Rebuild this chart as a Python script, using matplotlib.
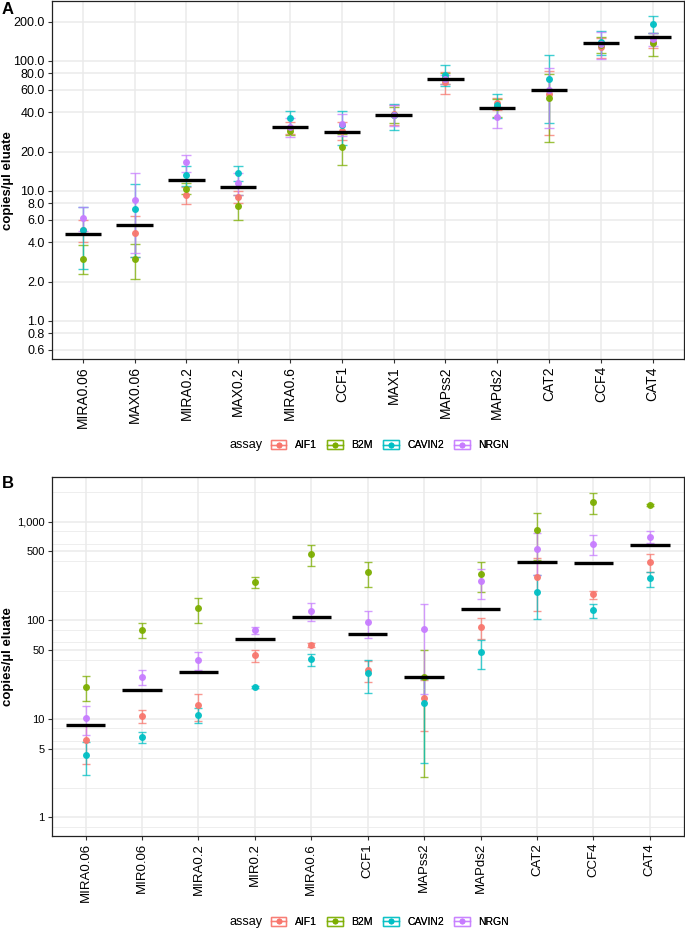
import numpy as np
import matplotlib
matplotlib.use("Agg")
import matplotlib.pyplot as plt
from matplotlib.ticker import FixedLocator, FuncFormatter, NullFormatter
from matplotlib.legend_handler import HandlerBase
from matplotlib.patches import Rectangle
from matplotlib.lines import Line2D

plt.rcParams['font.family'] = ['Liberation Sans', 'DejaVu Sans']

assays = ["AIF1", "B2M", "CAVIN2", "NRGN"]
assay_colors = ["#F8766D", "#7CAE00", "#00BFC4", "#C77CFF"]

# ---------------- Panel A ----------------
cats_A = ["MIRA0.06", "MAX0.06", "MIRA0.2", "MAX0.2", "MIRA0.6", "CCF1", "MAX1",
          "MAPss2", "MAPds2", "CAT2", "CCF4", "CAT4"]
A_AIF1_mean = [5.0, 4.75, 9.3, 9.0, 30.5, 29.0, 39.0, 69.0, 47.0, 55.2, 127, 140]
A_AIF1_low = [4.0, 3.1, 7.9, 8.0, 27.5, 24.5, 32.0, 55.5, 42.0, 26.7, 105, 125]
A_AIF1_high = [6.0, 6.4, 10.7, 10.0, 33.5, 33.8, 46.0, 82.5, 52.0, 83.8, 149, 155]
A_B2M_mean = [3.0, 3.0, 10.4, 7.6, 29.0, 21.6, 38.5, 73.0, 44.0, 51.3, 133, 136]
A_B2M_low = [2.3, 2.1, 9.5, 6.0, 27.0, 15.8, 33.0, 66.0, 37.0, 23.6, 115, 109]
A_B2M_high = [3.8, 3.9, 11.4, 9.2, 31.0, 27.4, 44.0, 80.0, 51.0, 79.0, 151, 163]
A_CAVIN2_mean = [5.0, 7.2, 13.2, 13.8, 36.0, 32.0, 38.0, 78.0, 46.0, 72.0, 140, 192]
A_CAVIN2_low = [2.5, 3.1, 10.9, 11.9, 31.0, 22.5, 29.5, 64.0, 36.5, 33.0, 111, 163]
A_CAVIN2_high = [7.5, 11.3, 15.5, 15.6, 41.0, 41.0, 46.5, 92.0, 55.5, 111.0, 169, 221]
A_NRGN_mean = [6.2, 8.5, 16.5, 11.4, 31.0, 32.5, 38.5, 72.0, 37.0, 59.5, 135, 147]
A_NRGN_low = [4.9, 3.3, 14.0, 9.2, 26.0, 26.4, 31.5, 66.0, 30.2, 30.5, 103, 130]
A_NRGN_high = [7.5, 13.7, 18.8, 13.6, 36.0, 38.6, 45.5, 78.0, 43.8, 88.5, 167, 164]
A_overall = [4.64, 5.45, 12.0, 10.7, 31.1, 28.4, 38.2, 72.3, 43.5, 59.2, 136, 151]
A_yticks = [0.6, 0.8, 1.0, 2.0, 4.0, 6.0, 8.0, 10.0, 20.0, 40.0, 60.0, 80.0, 100.0, 200.0]

# ---------------- Panel B ----------------
cats_B = ["MIRA0.06", "MIR0.06", "MIRA0.2", "MIR0.2", "MIRA0.6", "CCF1", "MAPss2",
          "MAPds2", "CAT2", "CCF4", "CAT4"]
B_AIF1_mean = [6.1, 10.8, 13.7, 44.5, 56.6, 31.3, 16.2, 84.9, 277, 184, 390]
B_AIF1_low = [3.5, 9.1, 9.6, 38.0, 54.0, 23.8, 7.5, 64.0, 124, 166, 311]
B_AIF1_high = [8.7, 12.3, 17.9, 50.1, 59.0, 38.8, 24.9, 106, 431, 200, 470]
B_B2M_mean = [21.2, 80.3, 132, 244, 467, 307, 26.3, 295, 824, 1574, 1476]
B_B2M_low = [15.3, 65.6, 94.6, 211, 354, 219, 2.6, 195, 409, 1197, 1430]
B_B2M_high = [27.0, 94.6, 169, 275, 574, 393, 50, 393, 1233, 1941, 1520]
B_CAVIN2_mean = [4.27, 6.55, 10.9, 20.9, 40.2, 29.4, 14.6, 47.7, 194, 126, 269]
B_CAVIN2_low = [2.7, 5.64, 9.1, 20.4, 34.4, 18.4, 3.6, 32.3, 102, 106, 219]
B_CAVIN2_high = [5.8, 7.35, 12.8, 21.4, 45.5, 39.6, 25.4, 62.7, 288, 146, 311]
B_NRGN_mean = [10.2, 26.8, 39.3, 80.3, 124, 96.1, 82.2, 249, 532, 594, 705]
B_NRGN_low = [6.8, 22.1, 31.0, 72.6, 97.7, 66.6, 18.0, 165, 288, 456, 604]
B_NRGN_high = [13.6, 31.3, 47.7, 86.0, 150, 125, 146, 329, 773, 733, 811]
B_overall = [8.61, 19.6, 29.9, 65.1, 107, 72.1, 26.8, 131, 393, 384, 576]
B_yticks = [1, 5, 10, 50, 100, 500, 1000]
B_yminor = [0.8, 2, 4, 6, 8, 20, 40, 60, 80, 200, 400, 600, 800, 2000]

A_series = [(A_AIF1_mean, A_AIF1_low, A_AIF1_high),
            (A_B2M_mean, A_B2M_low, A_B2M_high),
            (A_CAVIN2_mean, A_CAVIN2_low, A_CAVIN2_high),
            (A_NRGN_mean, A_NRGN_low, A_NRGN_high)]
B_series = [(B_AIF1_mean, B_AIF1_low, B_AIF1_high),
            (B_B2M_mean, B_B2M_low, B_B2M_high),
            (B_CAVIN2_mean, B_CAVIN2_low, B_CAVIN2_high),
            (B_NRGN_mean, B_NRGN_low, B_NRGN_high)]

W, H = 685, 938
fig = plt.figure(figsize=(W / 100, H / 100), dpi=100)


def px_axes(left, top, right, bottom):
    return fig.add_axes([left / W, 1 - bottom / H, (right - left) / W, (bottom - top) / H])


GRID = "#EBEBEB"


def draw_panel(ax, cats, series, overall, ylim, capsize, ytick_fs, xtick_fs):
    x = np.arange(len(cats))
    for (m, lo, hi), col in zip(series, assay_colors):
        m = np.asarray(m, float)
        lo = np.asarray(lo, float)
        hi = np.asarray(hi, float)
        ax.errorbar(x, m, yerr=[m - lo, hi - m], fmt='none', ecolor=col,
                    elinewidth=1.0, capsize=capsize, capthick=1.0, alpha=0.75, zorder=3)
    for (m, lo, hi), col in zip(series, assay_colors):
        ax.plot(x, m, 'o', color=col, markersize=5.0, markeredgewidth=0, alpha=0.95, zorder=4)
    ax.hlines(overall, x - 0.35, x + 0.35, color='black', lw=2.4, zorder=5)
    ax.set_yscale('log')
    ax.set_ylim(*ylim)
    ax.set_xlim(-0.6, len(cats) - 0.4)
    ax.set_xticks(x)
    ax.set_xticklabels(cats, rotation=90, fontsize=xtick_fs, color='black')
    ax.grid(which='major', color=GRID, lw=1.1)
    ax.grid(which='minor', color=GRID, lw=0.6)
    ax.set_axisbelow(True)
    ax.tick_params(which='major', direction='out', length=3, width=0.8, color='#333333',
                   labelcolor='black', pad=2)
    ax.tick_params(axis='y', which='major', labelsize=ytick_fs)
    ax.tick_params(axis='x', which='major', labelsize=xtick_fs)
    ax.tick_params(which='minor', length=0)
    for s in ax.spines.values():
        s.set_color('#222222')
        s.set_linewidth(0.9)
    ax.set_ylabel("copies/µl eluate", fontsize=9.5, fontweight='bold')
    ax.yaxis.set_label_coords(-0.06, 0.5)


axA = px_axes(51.7, 1, 683.7, 359.3)
draw_panel(axA, cats_A, A_series, A_overall, (0.505, 288), 3.6, 9.0, 10.0)
axA.yaxis.set_major_locator(FixedLocator(A_yticks))
axA.yaxis.set_major_formatter(FuncFormatter(lambda v, p: f"{v:.1f}"))
axA.yaxis.set_minor_locator(FixedLocator([]))
axA.yaxis.set_minor_formatter(NullFormatter())

axB = px_axes(51.7, 477.3, 683.7, 836)
draw_panel(axB, cats_B, B_series, B_overall, (0.649, 2820), 3.0, 8.0, 9.5)
axB.yaxis.set_major_locator(FixedLocator(B_yticks))
axB.yaxis.set_major_formatter(FuncFormatter(lambda v, p: f"{v:,.0f}"))
axB.yaxis.set_minor_locator(FixedLocator(B_yminor))
axB.yaxis.set_minor_formatter(NullFormatter())

fig.text(2 / W, 1 - 9 / H, "A", fontsize=12, fontweight='bold', va='center', ha='left')
fig.text(2 / W, 1 - 483 / H, "B", fontsize=12, fontweight='bold', va='center', ha='left')


class ErrKeyHandler(HandlerBase):
    def create_artists(self, legend, orig_handle, xdescent, ydescent, width, height,
                       fontsize, trans):
        col = orig_handle.get_color()
        x0, y0 = -xdescent, -ydescent
        rect = Rectangle((x0, y0), width, height, facecolor='none', edgecolor=col,
                         lw=1.0, alpha=0.75, transform=trans)
        ln = Line2D([x0, x0 + width], [y0 + height / 2] * 2, color=col, lw=1.0,
                    alpha=0.75, transform=trans)
        dot = Line2D([x0 + width / 2], [y0 + height / 2], marker='o', color=col,
                     markersize=4.2, markeredgewidth=0, transform=trans)
        return [rect, ln, dot]


handles = [Line2D([], [], color=c) for c in assay_colors]
for yc in (445, 921.7):
    fig.text(230 / W, 1 - yc / H, "assay", fontsize=9.1, va='center', ha='left')
    lg = fig.legend(handles, assays, loc='center left', bbox_to_anchor=(270.7 / W, 1 - yc / H),
                    ncol=4, frameon=False, fontsize=7.5, handlelength=1.5, handleheight=1.0,
                    handletextpad=0.85, columnspacing=0.95, borderpad=0, borderaxespad=0,
                    handler_map={Line2D: ErrKeyHandler()})
    fig.add_artist(lg)

fig.savefig("out.png", dpi=100)
